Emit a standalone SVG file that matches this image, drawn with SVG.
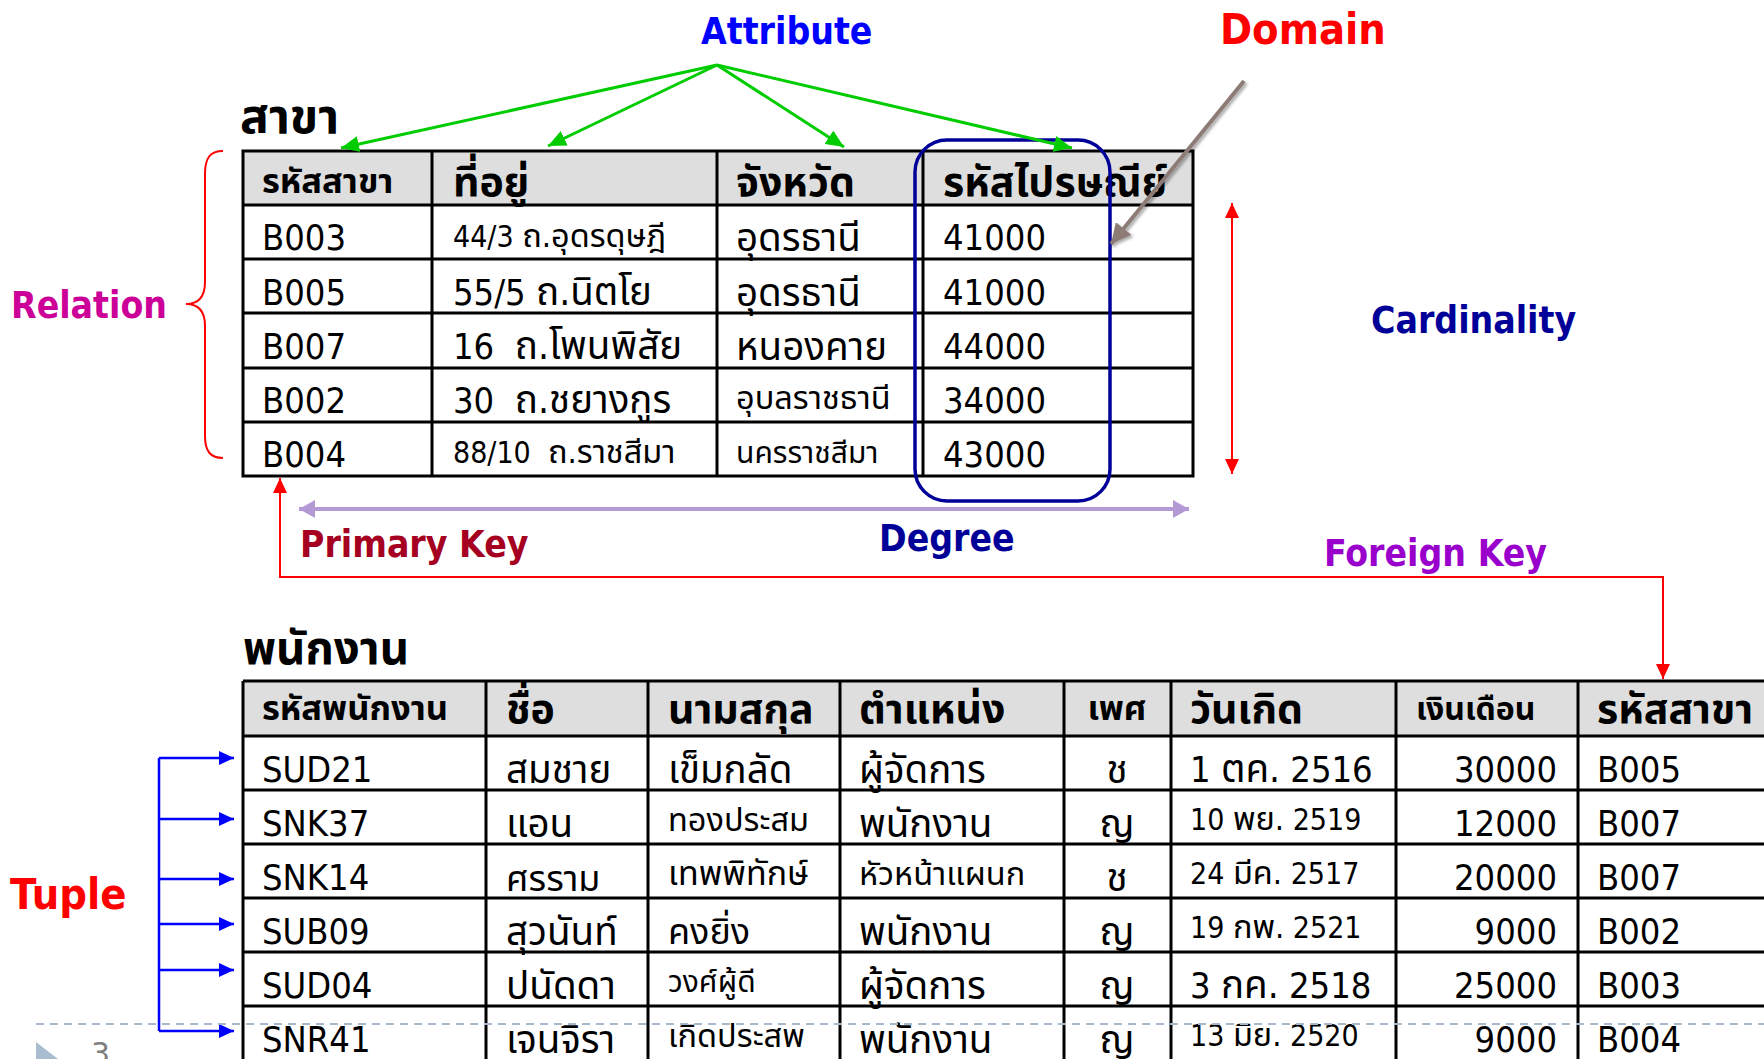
<svg xmlns="http://www.w3.org/2000/svg" width="1764" height="1059" viewBox="0 0 1764 1059">
<defs>
<style>
.t{font-family:"DejaVu Sans Condensed","DejaVu Sans","Noto Sans Thai","Noto Sans",sans-serif;font-stretch:condensed;font-size:36px;fill:#000}
.s{font-size:30px}
.th{font-size:38.5px}
.ths{font-size:32.5px}
.hb{font-weight:bold;font-size:41px}
.hbs{font-weight:bold;font-size:34.5px}
.ttl{font-weight:bold}
.lbl{font-family:"DejaVu Sans Condensed","DejaVu Sans",sans-serif;font-stretch:condensed;font-weight:bold;font-size:37px}
.grid{stroke:#000;stroke-width:3;fill:none}
.hdr{fill:#DEDEDE}
.body{fill:#fff}
.green{stroke:#00CC00;stroke-width:3;fill:none}
.red{stroke:#FF0000;stroke-width:2;fill:none}
.blue{stroke:#0000FF;stroke-width:2.5;fill:none}
</style>
<marker id="mg" markerUnits="userSpaceOnUse" markerWidth="20" markerHeight="16" refX="18" refY="8" orient="auto"><path d="M0,0 L18,8 L0,16 Z" fill="#00CC00"/></marker>
<marker id="mr" markerUnits="userSpaceOnUse" markerWidth="16" markerHeight="14" refX="15" refY="7" orient="auto-start-reverse"><path d="M0,0 L15,7 L0,14 Z" fill="#FF0000"/></marker>
<marker id="mp" markerUnits="userSpaceOnUse" markerWidth="18" markerHeight="18" refX="16" refY="9" orient="auto-start-reverse"><path d="M0,0 L16,9 L0,18 Z" fill="#B49AD4"/></marker>
<marker id="mb" markerUnits="userSpaceOnUse" markerWidth="16" markerHeight="14" refX="15" refY="7" orient="auto"><path d="M0,0 L15,7 L0,14 Z" fill="#0000FF"/></marker>
<marker id="mbr" markerUnits="userSpaceOnUse" markerWidth="22" markerHeight="20" refX="20" refY="10" orient="auto"><path d="M0,0 L20,10 L0,20 Z" fill="#8D7B76"/></marker>
<filter id="sh" x="-20%" y="-20%" width="140%" height="140%"><feDropShadow dx="2" dy="2" stdDeviation="1.5" flood-color="#000" flood-opacity="0.35"/></filter>
</defs>
<rect width="1764" height="1059" fill="#fff"/>

<g id="table-sakha">
<text class="t ttl" x="240" y="133" style="font-size:48px">สาขา</text>
<rect class="hdr" x="243" y="151" width="950" height="54"/>
<rect class="body" x="243" y="205" width="950" height="271"/>
<rect class="grid" x="243" y="151" width="950" height="325"/>
<path class="grid" d="M243,205H1193M243,259H1193M243,313H1193M243,368H1193M243,422H1193M432,151V476M717,151V476M923,151V476"/>
<text class="t hbs" x="262" y="193">รหัสสาขา</text>
<text class="t hb" x="453" y="196">ที่อยู่</text>
<text class="t hb" x="736" y="196">จังหวัด</text>
<text class="t hb" x="943" y="196">รหัสไปรษณีย์</text>
<text class="t" x="262" y="250">B003</text>
<text class="t" x="262" y="305">B005</text>
<text class="t" x="262" y="359">B007</text>
<text class="t" x="262" y="413">B002</text>
<text class="t" x="262" y="467">B004</text>
<text class="t s" x="453" y="247" xml:space="preserve">44/3 <tspan class="ths">ถ.อุดรดุษฎี</tspan></text>
<text class="t" x="453" y="305" xml:space="preserve">55/5 <tspan class="th">ถ.นิตโย</tspan></text>
<text class="t" x="453" y="359" xml:space="preserve">16  <tspan class="th">ถ.โพนพิสัย</tspan></text>
<text class="t" x="453" y="413" xml:space="preserve">30  <tspan class="th">ถ.ชยางกูร</tspan></text>
<text class="t s" x="453" y="463" xml:space="preserve">88/10  <tspan class="ths">ถ.ราชสีมา</tspan></text>
<text class="t th" x="736" y="251">อุดรธานี</text>
<text class="t th" x="736" y="306">อุดรธานี</text>
<text class="t th" x="736" y="360">หนองคาย</text>
<text class="t ths" x="736" y="409">อุบลราชธานี</text>
<text class="t s" x="736" y="463">นครราชสีมา</text>
<text class="t" x="943" y="250">41000</text>
<text class="t" x="943" y="305">41000</text>
<text class="t" x="943" y="359">44000</text>
<text class="t" x="943" y="413">34000</text>
<text class="t" x="943" y="467">43000</text>
</g>

<g id="domain-box">
<rect x="915" y="140" width="195" height="361" rx="32" fill="none" stroke="#000099" stroke-width="3.5"/>
</g>

<g id="table-employee">
<text class="t ttl" x="243" y="664" style="font-size:45.5px">พนักงาน</text>
<rect class="hdr" x="243" y="681" width="1530" height="55"/>
<rect class="body" x="243" y="736" width="1530" height="340"/>
<path class="grid" d="M243,681H1770M243,736H1770M243,790H1770M243,844H1770M243,898H1770M243,952H1770M243,1006H1770M243,681V1070M486,681V1070M648,681V1070M840,681V1070M1064,681V1070M1171,681V1070M1396,681V1070M1578,681V1070"/>
<text class="t hbs" x="262" y="720">รหัสพนักงาน</text>
<text class="t hb" x="506" y="723">ชื่อ</text>
<text class="t hb" x="668" y="723">นามสกุล</text>
<text class="t hb" x="859" y="723">ตำแหน่ง</text>
<text class="t hbs" x="1117" y="720" text-anchor="middle">เพศ</text>
<text class="t hb" x="1190" y="723">วันเกิด</text>
<text class="t hbs" x="1416" y="720" style="font-size:32px">เงินเดือน</text>
<text class="t hb" x="1597" y="723">รหัสสาขา</text>

<text class="t" x="262" y="782">SUD21</text>
<text class="t" x="262" y="836">SNK37</text>
<text class="t" x="262" y="890">SNK14</text>
<text class="t" x="262" y="944">SUB09</text>
<text class="t" x="262" y="998">SUD04</text>
<text class="t" x="262" y="1052">SNR41</text>

<text class="t th" x="506" y="783">สมชาย</text>
<text class="t th" x="506" y="837">แอน</text>
<text class="t" x="506" y="891">ศรราม</text>
<text class="t th" x="506" y="945">สุวนันท์</text>
<text class="t th" x="506" y="999">ปนัดดา</text>
<text class="t th" x="506" y="1053">เจนจิรา</text>

<text class="t th" x="668" y="783">เข็มกลัด</text>
<text class="t ths" x="668" y="831">ทองประสม</text>
<text class="t ths" x="668" y="885" style="font-size:34px">เทพพิทักษ์</text>
<text class="t" x="668" y="944">คงยิ่ง</text>
<text class="t s" x="668" y="992">วงศ์ผู้ดี</text>
<text class="t ths" x="668" y="1047">เกิดประสพ</text>

<text class="t th" x="859" y="783">ผู้จัดการ</text>
<text class="t th" x="859" y="837">พนักงาน</text>
<text class="t ths" x="859" y="885">หัวหน้าแผนก</text>
<text class="t th" x="859" y="945">พนักงาน</text>
<text class="t th" x="859" y="999">ผู้จัดการ</text>
<text class="t th" x="859" y="1053">พนักงาน</text>

<text class="t th" x="1117" y="783" text-anchor="middle">ช</text>
<text class="t th" x="1117" y="837" text-anchor="middle">ญ</text>
<text class="t th" x="1117" y="891" text-anchor="middle">ช</text>
<text class="t th" x="1117" y="945" text-anchor="middle">ญ</text>
<text class="t th" x="1117" y="999" text-anchor="middle">ญ</text>
<text class="t th" x="1117" y="1053" text-anchor="middle">ญ</text>

<text class="t" x="1190" y="782">1 <tspan class="th">ตค.</tspan> 2516</text>
<text class="t s" x="1190" y="830">10 <tspan class="ths">พย.</tspan> 2519</text>
<text class="t s" x="1190" y="884">24 <tspan class="ths">มีค.</tspan> 2517</text>
<text class="t s" x="1190" y="938">19 <tspan class="ths">กพ.</tspan> 2521</text>
<text class="t" x="1190" y="998">3 <tspan class="th">กค.</tspan> 2518</text>
<text class="t s" x="1190" y="1046">13 <tspan class="ths">มิย.</tspan> 2520</text>

<text class="t" x="1557" y="782" text-anchor="end">30000</text>
<text class="t" x="1557" y="836" text-anchor="end">12000</text>
<text class="t" x="1557" y="890" text-anchor="end">20000</text>
<text class="t" x="1557" y="944" text-anchor="end">9000</text>
<text class="t" x="1557" y="998" text-anchor="end">25000</text>
<text class="t" x="1557" y="1052" text-anchor="end">9000</text>

<text class="t" x="1597" y="782">B005</text>
<text class="t" x="1597" y="836">B007</text>
<text class="t" x="1597" y="890">B007</text>
<text class="t" x="1597" y="944">B002</text>
<text class="t" x="1597" y="998">B003</text>
<text class="t" x="1597" y="1052">B004</text>
</g>

<g id="labels">
<text id="lbl-attribute" class="lbl" x="701" y="44" fill="#0000FF">Attribute</text>
<text id="lbl-domain" class="lbl" x="1220" y="44" style="font-size:43px" fill="#FF0000">Domain</text>
<text id="lbl-relation" class="lbl" x="11" y="318" fill="#CC0099">Relation</text>
<text id="lbl-cardinality" class="lbl" x="1371" y="333" fill="#000099">Cardinality</text>
<text id="lbl-degree" class="lbl" x="879" y="551" fill="#000099">Degree</text>
<text id="lbl-primary" class="lbl" x="300" y="557" fill="#A50021">Primary Key</text>
<text id="lbl-foreign" class="lbl" x="1324" y="566" fill="#9900CC">Foreign Key</text>
<text id="lbl-tuple" class="lbl" x="10" y="909" style="font-size:43px" fill="#FF0000">Tuple</text>
</g>

<g id="connectors">
<path class="green" d="M717,65L341,148" marker-end="url(#mg)"/>
<path class="green" d="M717,65L548,146" marker-end="url(#mg)"/>
<path class="green" d="M717,65L844,147" marker-end="url(#mg)"/>
<path class="green" d="M717,65L1072,148" marker-end="url(#mg)"/>
<path d="M1244,81L1111,244" stroke="#8D7B76" stroke-width="4" fill="none" marker-end="url(#mbr)" filter="url(#sh)"/>
<path class="red" stroke-width="2.5" d="M223,151C210,151 205,158 205,174L205,282C205,296 199,304 186,304C199,304 205,312 205,326L205,436C205,452 211,458 223,458"/>
<path class="red" d="M1232,203L1232,474" marker-start="url(#mr)" marker-end="url(#mr)"/>
<path d="M299,509L1189,509" stroke="#B49AD4" stroke-width="4" fill="none" marker-start="url(#mp)" marker-end="url(#mp)"/>
<path class="red" d="M280,578L280,478" marker-end="url(#mr)"/>
<path class="red" d="M280,577L1663,577L1663,679" marker-end="url(#mr)"/>
<path class="blue" d="M159,758L159,1031"/>
<path class="blue" d="M159,758L234,758" marker-end="url(#mb)"/>
<path class="blue" d="M159,819L234,819" marker-end="url(#mb)"/>
<path class="blue" d="M159,879L234,879" marker-end="url(#mb)"/>
<path class="blue" d="M159,924L234,924" marker-end="url(#mb)"/>
<path class="blue" d="M159,970L234,970" marker-end="url(#mb)"/>
<path class="blue" d="M159,1031L234,1031" marker-end="url(#mb)"/>
</g>

<g id="footer">
<path d="M36,1024H1764" stroke="#A6B8CC" stroke-width="2" stroke-dasharray="8,6"/>
<path d="M36,1042L58,1059L36,1059Z" fill="#A9BCD0"/>
<text x="91" y="1064" font-family="DejaVu Sans, sans-serif" font-size="30" fill="#7F7F7F">3</text>
</g>
</svg>
